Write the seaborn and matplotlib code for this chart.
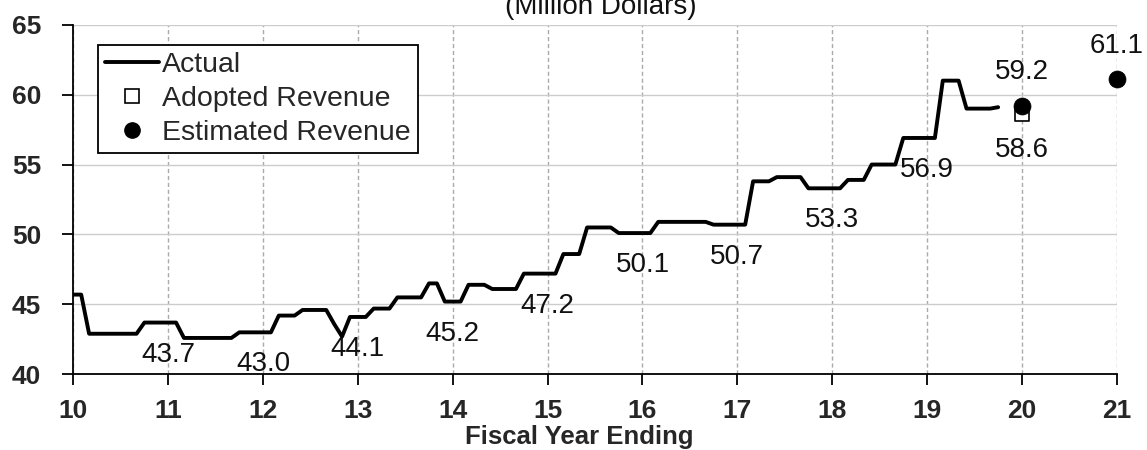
import matplotlib
matplotlib.use("Agg")
import numpy as np
import pandas as pd
import matplotlib.pyplot as plt
from matplotlib.lines import Line2D
import seaborn as sns

# Monthly actual revenue (million dollars), one row per fiscal year, starting FY10
actual_monthly = [
    45.7, 45.7, 42.9, 42.9, 42.9, 42.9, 42.9, 42.9, 42.9, 43.7, 43.7, 43.7,
    43.7, 43.7, 42.6, 42.6, 42.6, 42.6, 42.6, 42.6, 42.6, 43.0, 43.0, 43.0,
    43.0, 43.0, 44.2, 44.2, 44.2, 44.6, 44.6, 44.6, 44.6, 43.6, 42.7, 44.1,
    44.1, 44.1, 44.7, 44.7, 44.7, 45.5, 45.5, 45.5, 45.5, 46.5, 46.5, 45.2,
    45.2, 45.2, 46.4, 46.4, 46.4, 46.1, 46.1, 46.1, 46.1, 47.2, 47.2, 47.2,
    47.2, 47.2, 48.6, 48.6, 48.6, 50.5, 50.5, 50.5, 50.5, 50.1, 50.1, 50.1,
    50.1, 50.1, 50.9, 50.9, 50.9, 50.9, 50.9, 50.9, 50.9, 50.7, 50.7, 50.7,
    50.7, 50.7, 53.8, 53.8, 53.8, 54.1, 54.1, 54.1, 54.1, 53.3, 53.3, 53.3,
    53.3, 53.3, 53.9, 53.9, 53.9, 55.0, 55.0, 55.0, 55.0, 56.9, 56.9, 56.9,
    56.9, 56.9, 61.0, 61.0, 61.0, 59.0, 59.0, 59.0, 59.0, 59.1,
]
start_year = 10

# Fiscal year-end totals written under the line
year_end_years = [11, 12, 13, 14, 15, 16, 17, 18, 19]
year_end_values = [43.7, 43.0, 44.1, 45.2, 47.2, 50.1, 50.7, 53.3, 56.9]

adopted_years = [20]
adopted_values = [58.6]

estimated_years = [20, 21]
estimated_values = [59.2, 61.1]

x_ticks = list(range(10, 22))
y_ticks = [40, 45, 50, 55, 60, 65]

actual_df = pd.DataFrame({
    "year": start_year + np.arange(len(actual_monthly)) / 12.0,
    "revenue": actual_monthly,
})
adopted_df = pd.DataFrame({"year": adopted_years, "revenue": adopted_values})
estimated_df = pd.DataFrame({"year": estimated_years, "revenue": estimated_values})

sns.set_theme(style="white")
plt.rcParams["font.family"] = ["Liberation Sans", "DejaVu Sans"]

W, H = 1147, 450
fig = plt.figure(figsize=(W / 100, H / 100), dpi=100)
left, right, top, bottom = 73.3, 1116.7, 24.7, 374.3
ax = fig.add_axes([left / W, 1 - bottom / H, (right - left) / W, (bottom - top) / H])

sns.lineplot(data=actual_df, x="year", y="revenue", ax=ax, color="black",
             linewidth=2.8, legend=False, zorder=4)
sns.scatterplot(data=adopted_df, x="year", y="revenue", ax=ax, marker="s",
                s=110, color="white", edgecolor="black", linewidth=1.2,
                legend=False, zorder=5, clip_on=False)
sns.scatterplot(data=estimated_df, x="year", y="revenue", ax=ax, marker="o",
                s=150, color="black", edgecolor="black", linewidth=0.5,
                legend=False, zorder=6, clip_on=False)

ax.set_xlim(10, 21)
ax.set_ylim(40, 65)
ax.set_xticks(x_ticks)
ax.set_yticks(y_ticks)
ax.set_xticklabels([str(t) for t in x_ticks], fontsize=19, fontweight="bold")
ax.set_yticklabels([str(t) for t in y_ticks], fontsize=19, fontweight="bold")
ax.tick_params(axis="both", direction="out", length=8, width=1.3, color="black",
               bottom=True, left=True)
ax.tick_params(axis="y", pad=15)
ax.tick_params(axis="x", pad=10)
ax.set_xlabel("")
ax.set_ylabel("")

ax.yaxis.grid(True, color="#cccccc", linewidth=1.0, linestyle="-")
ax.xaxis.grid(True, color="#aaaaaa", linewidth=1.0, linestyle=(0, (3, 2)))
ax.set_axisbelow(True)

for side in ["top", "right"]:
    ax.spines[side].set_visible(False)
for side in ["left", "bottom"]:
    ax.spines[side].set_color("black")
    ax.spines[side].set_linewidth(1.3)

# value labels
for yr, v in zip(year_end_years, year_end_values):
    ax.annotate(f"{v:.1f}", (yr, v), xytext=(0, -23), textcoords="offset points",
                ha="center", va="center", fontsize=20, color="#111111")
ax.annotate(f"{adopted_values[0]:.1f}", (adopted_years[0], adopted_values[0]),
            xytext=(0, -26), textcoords="offset points", ha="center",
            va="center", fontsize=20, color="#111111")
for yr, v in zip(estimated_years, estimated_values):
    ax.annotate(f"{v:.1f}", (yr, v), xytext=(0, 24), textcoords="offset points",
                ha="center", va="center", fontsize=20, color="#111111",
                annotation_clip=False)

handles = [
    Line2D([], [], color="black", linewidth=2.8, label="Actual"),
    Line2D([], [], linestyle="none", marker="s", markersize=10,
           markerfacecolor="white", markeredgecolor="black",
           markeredgewidth=1.2, label="Adopted Revenue"),
    Line2D([], [], linestyle="none", marker="o", markersize=11,
           markerfacecolor="black", markeredgecolor="black",
           label="Estimated Revenue"),
]
leg = ax.legend(handles=handles, loc="upper left",
                bbox_to_anchor=((98 - left) / (right - left),
                                (bottom - 45) / (bottom - top)),
                fontsize=20.5, frameon=True, fancybox=False, framealpha=1,
                edgecolor="black", borderpad=0.25, labelspacing=0.28,
                handlelength=1.9, handletextpad=0.1, borderaxespad=0)
leg.get_frame().set_linewidth(1.3)
leg.set_zorder(10)

fig.text(601 / W, 1 - 14 / H, "(Million Dollars)", ha="center",
         va="baseline", fontsize=20, color="#111111")
fig.text(579 / W, 1 - 437 / H, "Fiscal Year Ending", ha="center",
         va="center", fontsize=18.5, fontweight="bold")

fig.savefig("out.png", dpi=100)
